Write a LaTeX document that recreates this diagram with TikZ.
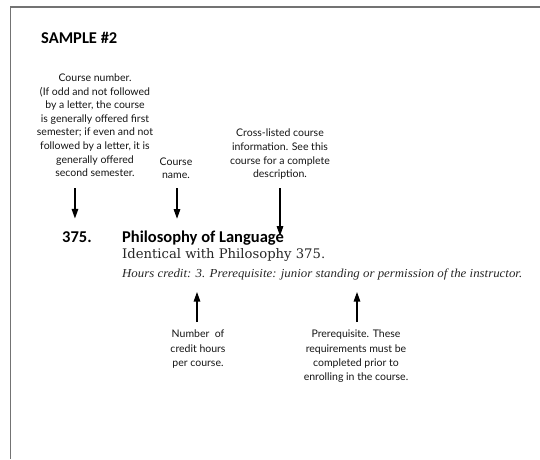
\documentclass[tikz,border=0pt]{standalone}
\usepackage{fontspec}
\setmainfont{Liberation Serif}
\newfontfamily\lblfont{Lato}
\newfontfamily\headfont{Carlito}
\newfontfamily\serfont{DejaVu Serif}
\newfontfamily\itfont{Liberation Serif}
\usetikzlibrary{arrows.meta,calc}
\begin{document}
\begin{tikzpicture}[x=1pt,y=-1pt,
  lbl/.style={font=\lblfont\fontsize{10.5}{13.6}\selectfont, align=center, inner sep=0pt, text=black!92},
  lblb/.style={lbl, font=\lblfont\fontsize{10.5}{14.2}\selectfont},
  arr/.style={-{Triangle[width=6.5pt,length=9.5pt]}, line width=1.2pt},
  head/.style={font=\headfont\bfseries\fontsize{16.5}{20}\selectfont, inner sep=0pt, anchor=base west},
  plain/.style={inner sep=0pt, anchor=base west, text=black!85},
  frame/.style={draw=black!55, line width=1.6pt}]
\useasboundingbox (0,0) rectangle (540,459);
\draw[frame] (540,7) -- (10.5,7) -- (10.5,459);

\node[head] (title) at (41,43) {SAMPLE \#2};

\node[lbl, anchor=south] (lnum) at (95,177) {Course number.\\(If odd and not followed\\by a letter, the course\\is generally offered first\\semester; if even and not\\followed by a letter, it is\\generally offered\\second semester.};
\node[lbl, anchor=south] (lname) at (176,179) {Course\\name.};
\node[lbl, anchor=south] (lcross) at (280,179.6) {Cross-listed course\\information. See this\\course for a complete\\description.};

\node[head] (num) at (62,242) {375.};
\node[head] (ctitle) at (122,242) {Philosophy of Language};
\node[plain] (ident) at (122,258.5) {\resizebox{203pt}{!}{\serfont\fontsize{12}{14}\selectfont Identical with Philosophy 375.}};
\node[plain] (hours) at (122,277) {\resizebox{400pt}{8.6pt}{\itfont\itshape\fontsize{12.7}{15}\selectfont Hours credit: 3. Prerequisite: junior standing or permission of the instructor.}};

\node[lblb, anchor=north] (lcred) at (198,330) {Number\ \ of\\credit hours\\per course.};
\node[lblb, anchor=north] (lpre) at (356,330) {Prerequisite. These\\requirements must be\\completed prior to\\enrolling in the course.};

\draw[arr] ($(num.north |- lnum.south)+(-2,11)$) -- ($(num.north)+(-2,-12.5)$);
\draw[arr] ($(lname.south)+(1,9)$) -- ($(lname.south |- ctitle.north)+(1,-11.5)$);
\draw[arr] ($(lcross.south)+(0,8.5)$) -- ($(lcross.south |- ctitle.north)+(0,5.5)$);
\draw[arr] ($(lcred.north)+(-1,-8)$) -- ($(lcred.north |- hours.base)+(-1,15)$);
\draw[arr] ($(lpre.north)+(1,-8)$) -- ($(lpre.north |- hours.base)+(1,15)$);
\end{tikzpicture}
\end{document}
